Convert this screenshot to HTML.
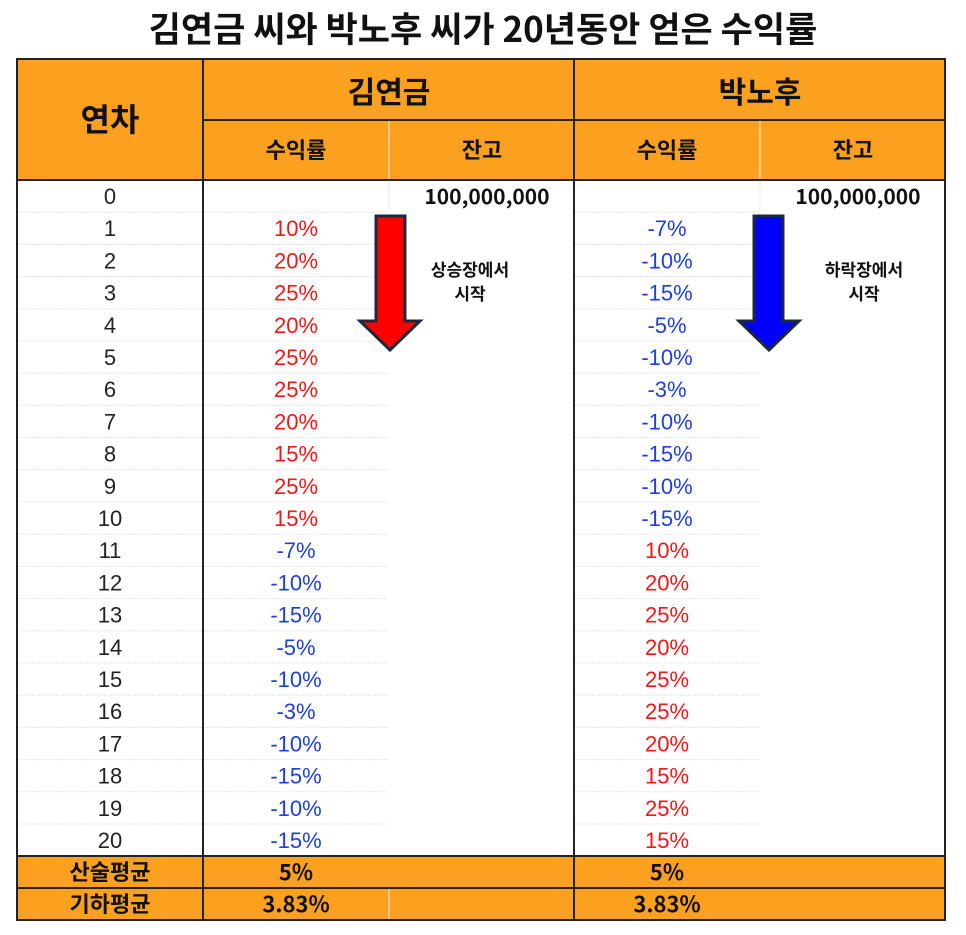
<!DOCTYPE html>
<html><head><meta charset="utf-8"><style>
html,body{margin:0;padding:0;background:#fff;}
svg{display:block;font-family:"Liberation Sans","Noto Sans CJK KR",sans-serif;}
</style></head><body>
<svg id="s" width="966" height="935" viewBox="0 0 966 935">
<text x="483" y="42" text-anchor="middle" font-size="35" font-weight="bold" fill="#111" font-family="Noto Sans CJK KR, sans-serif">김연금 씨와 박노후 씨가 20년동안 얻은 수익률</text>
<rect x="17" y="59" width="928" height="121" fill="#fca020"/>
<rect x="17" y="856" width="928" height="64" fill="#fca020"/>
<g id="grid"></g>
<g font-family="Noto Sans CJK KR, sans-serif" font-weight="bold" fill="#111" text-anchor="middle">
<text x="110" y="131" font-size="32">연차</text>
<text x="389" y="103" font-size="30">김연금</text>
<text x="760" y="103" font-size="30">박노후</text>
<text x="296" y="158" font-size="22">수익률</text>
<text x="482" y="158" font-size="22">잔고</text>
<text x="667" y="158" font-size="22">수익률</text>
<text x="853" y="158" font-size="22">잔고</text>
<text x="110" y="880" font-size="22">산술평균</text>
<text x="110" y="912" font-size="22">기하평균</text>
<text x="296" y="880" font-size="22">5%</text>
<text x="667" y="880" font-size="22">5%</text>
<text x="296" y="912" font-size="22">3.83%</text>
<text x="667" y="912" font-size="22">3.83%</text>
<text x="487" y="204" font-size="21">100,000,000</text>
<text x="858" y="204" font-size="21">100,000,000</text>
<text x="470" y="276" font-size="17">상승장에서</text>
<text x="470" y="300" font-size="17">시작</text>
<text x="864" y="276" font-size="17">하락장에서</text>
<text x="864" y="300" font-size="17">시작</text>
</g>
<g id="rows"></g>
<path d="M376,216 H405 V321 H420 L390,350 L360,321 H376 Z" fill="#f00" stroke="#1b2a3a" stroke-width="3"/>
<path d="M754,216 H783 V321 H799 L769,350 L739,321 H754 Z" fill="#00f" stroke="#1b2a3a" stroke-width="3"/>
<g id="borders" stroke="#222" stroke-width="2" fill="none"></g>
</svg>
<script>
const years=[0,1,2,3,4,5,6,7,8,9,10,11,12,13,14,15,16,17,18,19,20];
const kimReturns=[null,10,20,25,20,25,25,20,15,25,15,-7,-10,-15,-5,-10,-3,-10,-15,-10,-15];
const parkReturns=[null,-7,-10,-15,-5,-10,-3,-10,-15,-10,-15,10,20,25,20,25,25,20,15,25,15];
const NS="http://www.w3.org/2000/svg";
const top0=180,rowH=32.2;
const rowY=i=>top0+rowH*i;
const rows=document.getElementById('rows');
const grid=document.getElementById('grid');
function txt(x,y,s,col,name){const t=document.createElementNS(NS,'text');
t.setAttribute('x',x);t.setAttribute('y',y);t.setAttribute('text-anchor','middle');
t.setAttribute('font-size','22');t.setAttribute('fill',col);t.textContent=s;


rows.appendChild(t);}
years.forEach((yr,i)=>{
const cy=rowY(i)+24;
txt(110,cy,String(yr),'#222','year-'+yr);
if(kimReturns[i]!==null)txt(296,cy,kimReturns[i]+'%',kimReturns[i]<0?'#1f3fd8':'#f01818','kim-return-'+yr);
if(parkReturns[i]!==null)txt(667,cy,parkReturns[i]+'%',parkReturns[i]<0?'#1f3fd8':'#f01818','park-return-'+yr);
if(i>0){const l=document.createElementNS(NS,'path');
const y=rowY(i);
l.setAttribute('d',`M17,${y}H389 M574,${y}H760`);
l.setAttribute('stroke','#e4e4e4');l.setAttribute('stroke-dasharray','2,1');


grid.appendChild(l);}
});
const vb=document.createElementNS(NS,'path');
vb.setAttribute('d','M389,180V212 M760,180V212 M389,121V180 M760,121V180 M389,888V920');
vb.setAttribute('stroke','#e8e8e8');


grid.appendChild(vb);
const b=document.getElementById('borders');
const bp=document.createElementNS(NS,'path');
bp.setAttribute('d','M17,59H945V920H17Z M203,59V920 M574,59V920 M203,120H945 M17,180H945 M17,856H945 M17,888H945');


b.appendChild(bp);
</script>
</body></html>
